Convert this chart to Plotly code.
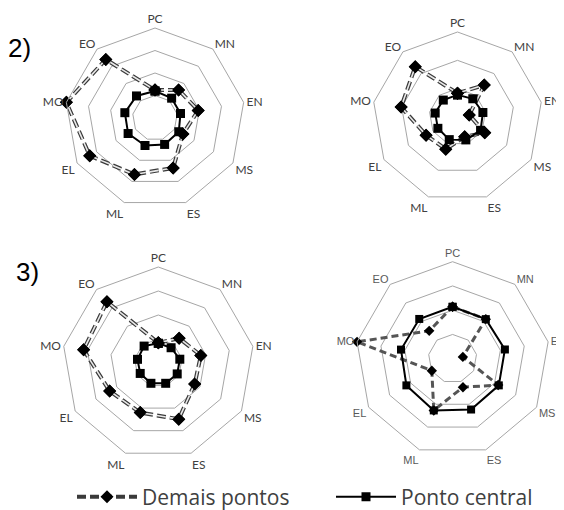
import plotly.graph_objects as go

categories = ["PC", "MN", "EN", "MS", "ES", "ML", "EL", "MO", "EO"]

# Chart 2) left
demais_2a = [1.24, 1.63, 1.95, 1.43, 2.36, 2.67, 3.35, 4.0, 3.4]
central_2a = [1.2, 1.15, 1.15, 1.22, 1.25, 1.3, 1.38, 1.36, 1.28]
# Chart 2) right
demais_2b = [0.84, 1.47, 0.42, 1.11, 0.74, 1.21, 1.28, 2.02, 2.32]
central_2b = [0.78, 0.84, 0.91, 0.94, 0.86, 0.85, 0.8, 0.8, 0.78]
# Chart 3) left
demais_3a = [0.84, 1.35, 1.8, 1.75, 2.49, 2.2, 2.34, 3.16, 3.33]
central_3a = [0.82, 0.83, 0.91, 0.91, 0.9, 0.9, 0.87, 0.88, 0.92]
# Chart 3) right
demais_3b = [2.14, 2.13, 0.43, 2.17, 1.25, 2.27, 0.99, 4.0, 1.5]
central_3b = [2.14, 2.13, 2.19, 2.2, 2.23, 2.27, 2.2, 2.16, 2.14]

# page offset of the figure inside the html body (default body margin)
OFF = 8
W, H = 564 - OFF, 510 - OFF

LABEL_FONT = dict(family="Lato", size=12, color="#404040")
LABEL_FONT_D = dict(family="Liberation Sans", size=11, color="#595959")

charts = [
    dict(dem=demais_2a, cen=central_2a, rmax=4, box=(155, 118, 90), double=True, font=LABEL_FONT),
    dict(dem=demais_2b, cen=central_2b, rmax=3, box=(457.5, 117, 85), double=True, font=LABEL_FONT),
    dict(dem=demais_3a, cen=central_3a, rmax=4, box=(158.3, 363, 96), double=True, font=LABEL_FONT),
    dict(dem=demais_3b, cen=central_3b, rmax=4, box=(452.6, 358.7, 97), double=False, font=LABEL_FONT_D),
]

fig = go.Figure()
layout = {}
theta = categories + categories[:1]
DASH = "9px,4px"

for i, c in enumerate(charts):
    pid = "polar" if i == 0 else f"polar{i+1}"
    sub = pid
    dem = c["dem"] + c["dem"][:1]
    cen = c["cen"] + c["cen"][:1]
    first = i == 0
    if c["double"]:
        fig.add_trace(go.Scatterpolar(r=dem, theta=theta, subplot=sub, mode="lines+markers",
                                      name="Demais pontos", legendgroup="d", showlegend=first,
                                      line=dict(color="#3a3a3a", width=4, dash=DASH),
                                      marker=dict(symbol="diamond", size=10, color="black")))
        fig.add_trace(go.Scatterpolar(r=dem, theta=theta, subplot=sub, mode="lines",
                                      showlegend=False, hoverinfo="skip",
                                      line=dict(color="#e8e8e8", width=1.6, dash=DASH)))
        fig.add_trace(go.Scatterpolar(r=c["dem"], theta=categories, subplot=sub, mode="markers",
                                      showlegend=False,
                                      marker=dict(symbol="diamond", size=10, color="black")))
        msize = 9
    else:
        fig.add_trace(go.Scatterpolar(r=dem, theta=theta, subplot=sub, mode="lines+markers",
                                      showlegend=False, legendgroup="d",
                                      line=dict(color="#555555", width=3, dash="7px,4px"),
                                      marker=dict(symbol="diamond", size=8, color="black")))
        msize = 8
    fig.add_trace(go.Scatterpolar(r=cen, theta=theta, subplot=sub, mode="lines+markers",
                                  name="Ponto central", legendgroup="c", showlegend=first,
                                  line=dict(color="black", width=2),
                                  marker=dict(symbol="square", size=msize, color="black")))
    cx, cy, R = c["box"]
    cx -= OFF
    cy -= OFF
    layout[pid] = dict(
        domain=dict(x=[(cx - R) / W, (cx + R) / W], y=[1 - (cy + R) / H, 1 - (cy - R) / H]),
        gridshape="linear",
        bgcolor="white",
        radialaxis=dict(range=[0, c["rmax"]], dtick=1, showticklabels=False, ticks="",
                        showline=False, gridcolor="#a6a6a6", gridwidth=1),
        angularaxis=dict(direction="clockwise", rotation=90, showgrid=False,
                         showline=True, linecolor="#a6a6a6", linewidth=1, ticks="",
                         tickfont=c["font"]),
    )

fig.update_layout(
    width=W, height=H,
    margin=dict(l=0, r=0, t=0, b=0, autoexpand=False),
    paper_bgcolor="white",
    plot_bgcolor="white",
    showlegend=True,
    legend=dict(orientation="h", x=(72 - OFF) / W, xanchor="left",
                y=1 - (497 - OFF) / H, yanchor="middle",
                font=dict(family="Open Sans", size=21, color="#404040"),
                itemwidth=60, entrywidth=184, tracegroupgap=0, bgcolor="rgba(0,0,0,0)"),
    annotations=[
        dict(text="2)", x=(19 - OFF) / W, y=1 - (48 - OFF) / H, xref="paper", yref="paper",
             xanchor="center", yanchor="middle",
             showarrow=False, font=dict(family="Liberation Sans", size=26, color="black")),
        dict(text="3)", x=(27 - OFF) / W, y=1 - (272 - OFF) / H, xref="paper", yref="paper",
             xanchor="center", yanchor="middle",
             showarrow=False, font=dict(family="Liberation Sans", size=26, color="black")),
    ],
    **layout,
)

fig.write_html("out.html")
